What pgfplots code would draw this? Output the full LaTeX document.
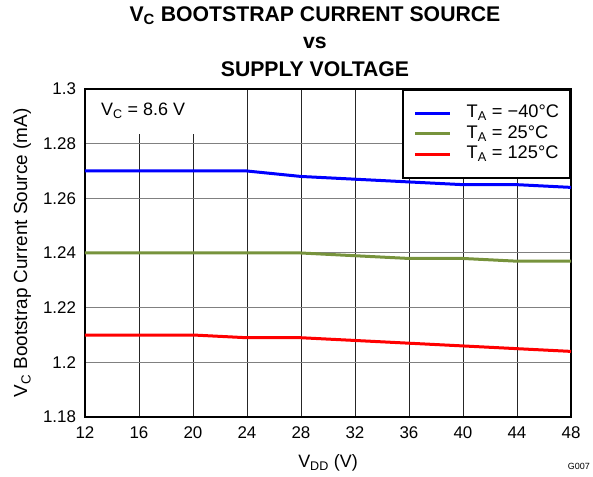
\documentclass[border=0pt]{standalone}
\usepackage{fontspec}
\setmainfont{Liberation Sans}
\usepackage{pgfplots}
\pgfplotsset{compat=1.18}
\definecolor{tiblue}{RGB}{0,0,255}
\definecolor{tigreen}{RGB}{119,147,60}
\definecolor{tired}{RGB}{255,0,0}
\begin{document}
\begin{tikzpicture}
\begin{axis}[
  scale only axis, width=486bp, height=328bp,
  xmin=12, xmax=48, ymin=1.18, ymax=1.3,
  xtick={12,16,20,24,28,32,36,40,44,48},
  ytick={1.18,1.2,1.22,1.24,1.26,1.28,1.3},
  yticklabels={1.18,1.2,1.22,1.24,1.26,1.28,1.3},
  /pgf/number format/assume math mode=true,
  tick label style={font=\fontsize{17}{17}\selectfont},
  xticklabel style={yshift=-6.5bp},
  yticklabel style={xshift=-5.5bp},
  major tick length=0pt,
  grid=major,
  x grid style={black!85, line width=0.8bp},
  y grid style={black!50, line width=1bp},
  axis line style={line width=2.5bp},
  xlabel={V\textsubscript{DD} (V)},
  ylabel={V\textsubscript{C} Bootstrap Current Source (mA)},
  label style={font=\fontsize{18}{18}\selectfont},
  xlabel style={at={(axis description cs:0.5,0)}, anchor=center, yshift=-46bp},
  ylabel style={at={(axis description cs:-0.129,0.5)}, anchor=center, font=\fontsize{19}{19}\selectfont},
  legend style={at={(1,1)}, anchor=north east, draw=black, line width=2bp,
    fill=white, font=\fontsize{18.3}{18.3}\selectfont, inner xsep=11bp, inner ysep=15.5bp,
    row sep=4.5bp, nodes={inner sep=0pt, text height=12.5bp, text depth=3.5bp},
    /tikz/every odd column/.append style={column sep=15bp}},
  legend cell align=left,
  legend image code/.code={\draw[#1] (0bp,0bp) -- (35bp,0bp);},
]
\fill[white] ([xshift=1.5bp,yshift=-1.5bp]axis cs:12,1.3) rectangle (axis cs:22,1.2836);
\node[anchor=west, font=\fontsize{18}{18}\selectfont, inner sep=0pt] at ([xshift=16bp,yshift=-22bp]axis cs:12,1.3) {V\textsubscript{C} = 8.6 V};

\addplot[tiblue, line width=3bp] coordinates {
(12,1.270) (16,1.270) (20,1.270) (24,1.270) (28,1.268) (32,1.267) (36,1.266) (40,1.265) (44,1.265) (48,1.264)};
\addlegendentry{T\textsubscript{A} = −40°C}
\addplot[tigreen, line width=3bp] coordinates {
(12,1.240) (16,1.240) (20,1.240) (24,1.240) (28,1.240) (32,1.239) (36,1.238) (40,1.238) (44,1.237) (48,1.237)};
\addlegendentry{T\textsubscript{A} = 25°C}
\addplot[tired, line width=3bp] coordinates {
(12,1.210) (16,1.210) (20,1.210) (24,1.209) (28,1.209) (32,1.208) (36,1.207) (40,1.206) (44,1.205) (48,1.204)};
\addlegendentry{T\textsubscript{A} = 125°C}
\end{axis}
\node[anchor=south, align=center, font=\bfseries\fontsize{21.3}{27.5}\selectfont, inner sep=0pt]
  at ([xshift=-13bp,yshift=12.5bp]current axis.north) {V\textsubscript{C} BOOTSTRAP CURRENT SOURCE\\vs\\SUPPLY VOLTAGE};
\node[anchor=east, font=\fontsize{9}{9}\selectfont, inner sep=0pt] at ([xshift=19bp,yshift=-49bp]current axis.south east) {G007};
\pgfresetboundingbox
\path[use as bounding box] ([xshift=-85bp,yshift=-60bp]current axis.south west) rectangle ([xshift=22bp,yshift=89bp]current axis.north east);
\end{tikzpicture}
\end{document}
